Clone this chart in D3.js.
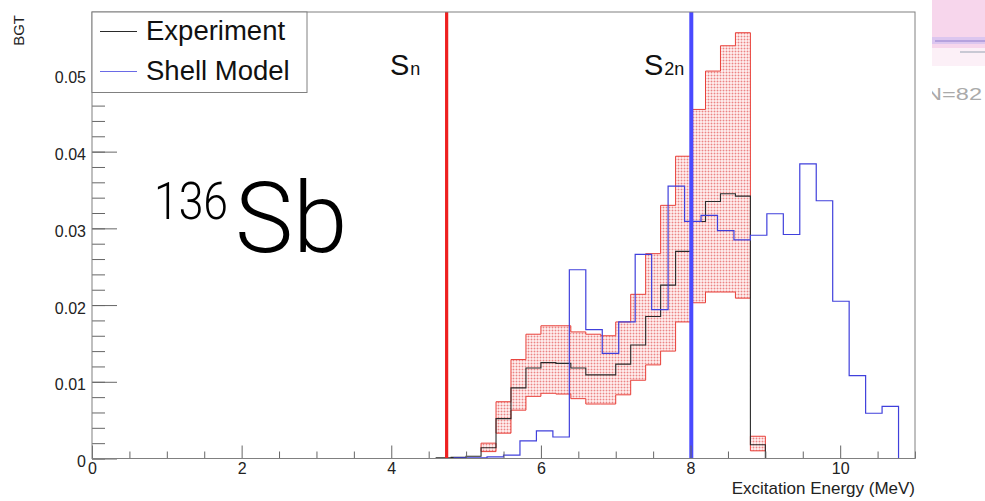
<!DOCTYPE html>
<html>
<head>
<meta charset="utf-8">
<script src="https://cdn.jsdelivr.net/npm/d3@7"></script>
<style>
  html, body { margin: 0; padding: 0; background: #fff; }
  svg { display: block; font-family: "Liberation Sans", Arial, sans-serif; }
</style>
</head>
<body>
<svg id="chart" width="985" height="501"></svg>
<script>
// Measured B(GT) distribution: 0.2 MeV bins starting at 4.6 MeV
const expStart = 4.6;
const expBinWidth = 0.2;
const expValues = [0.0001, 0.00015, 0.0003, 0.0014, 0.0052, 0.0092, 0.0118, 0.0125, 0.0124, 0.0118, 0.0109,
                   0.0109, 0.0123, 0.0148, 0.0185, 0.0226, 0.0270, 0.0309, 0.0335, 0.0345, 0.0342, 0.0018];
// Uncertainty band (lower / upper edge), null where no band is drawn
const expLow  = [null, null, null, 0.0009, 0.0033, 0.0063, 0.0081, 0.0085, 0.0084, 0.0078, 0.0071,
                 0.0071, 0.0083, 0.0102, 0.0122, 0.0140, 0.0178, 0.0203, 0.0217, 0.0217, 0.0209, 0.0010];
const expHigh = [null, null, null, 0.0020, 0.0074, 0.0129, 0.0162, 0.0173, 0.0173, 0.0165, 0.0162,
                 0.0160, 0.0178, 0.0214, 0.0267, 0.0330, 0.0394, 0.0455, 0.0505, 0.0538, 0.0555, 0.0029];

// Shell-model B(GT): 0.22 MeV bins starting at 4.84 MeV
const smStart = 4.84;
const smBinWidth = 0.22;
const smValues = [0.0001, 0.0001, 0.0002, 0.00045, 0.0023, 0.0036, 0.0028, 0.0246, 0.0168, 0.0137, 0.0178,
                  0.0266, 0.0194, 0.0355, 0.0309, 0.0317, 0.0297, 0.0285, 0.0291, 0.0319, 0.0292, 0.0384,
                  0.0336, 0.0205, 0.0108, 0.0059, 0.0068];

// Neutron separation energies (MeV)
const thresholdNames = ["n", "2n"];
const thresholdEnergies = [4.74, 8.01];
const thresholdColors = ["#ee2020", "#4a4aff"];

const xTicks = [0, 2, 4, 6, 8, 10];
const xMinorTicks = d3.range(0, 11.01, 0.5);
const yTicks = [0, 0.01, 0.02, 0.03, 0.04, 0.05];
const yMinorTicks = d3.range(0, 0.0581, 0.002);

const legendLabels = ["Experiment", "Shell Model"];

const svg = d3.select("#chart");
const plotLeft = 92, plotRight = 915, plotTop = 12, plotBottom = 458.5;

const x = d3.scaleLinear().domain([0, 11]).range([plotLeft, plotRight]);
const y = d3.scaleLinear().domain([0, 0.0582]).range([plotBottom, plotTop]);

// dotted pink fill for the uncertainty band
const defs = svg.append("defs");
const pat = defs.append("pattern").attr("id", "band").attr("patternUnits", "userSpaceOnUse")
  .attr("width", 3).attr("height", 3);
pat.append("rect").attr("width", 3).attr("height", 3).attr("fill", "#fdeaea");
pat.append("rect").attr("width", 3).attr("height", 1).attr("fill", "#f8c8c8");
pat.append("rect").attr("width", 1).attr("height", 3).attr("fill", "#f8c8c8");
pat.append("rect").attr("width", 1).attr("height", 1).attr("fill", "#ea8585");

defs.append("clipPath").attr("id", "edgeClip")
  .append("rect").attr("x", 932).attr("y", 0).attr("width", 60).attr("height", 501);

const line = d3.line().x(d => x(d[0])).y(d => y(d[1]));

function stepPoints(start, width, values) {
  const pts = [[start, 0]];
  values.forEach((v, i) => {
    pts.push([start + i * width, v]);
    pts.push([start + (i + 1) * width, v]);
  });
  pts.push([start + values.length * width, 0]);
  return pts;
}

// split the band into runs of overlapping bins and outline each run
const runs = [];
let cur = null;
expLow.forEach((lo, i) => {
  if (lo === null) { cur = null; return; }
  const hi = expHigh[i];
  if (cur && cur.length) {
    const p = cur[cur.length - 1];
    if (lo > p.hi || hi < p.lo) cur = null;
  }
  if (!cur) { cur = []; runs.push(cur); }
  cur.push({ i, lo, hi });
});
runs.forEach(run => {
  const upper = [], lower = [];
  run.forEach(b => {
    const e0 = expStart + b.i * expBinWidth, e1 = e0 + expBinWidth;
    upper.push([e0, b.hi], [e1, b.hi]);
    lower.push([e0, b.lo], [e1, b.lo]);
  });
  const poly = upper.concat(lower.reverse());
  poly.push(poly[0]);
  svg.append("path").attr("d", line(poly))
    .attr("fill", "url(#band)").attr("stroke", "#e8403a").attr("stroke-width", 1);
});

// experiment histogram
svg.append("path").attr("d", line(stepPoints(expStart, expBinWidth, expValues)))
  .attr("fill", "none").attr("stroke", "#2a2a2a").attr("stroke-width", 1.1);

// shell-model histogram
svg.append("path").attr("d", line(stepPoints(smStart, smBinWidth, smValues)))
  .attr("fill", "none").attr("stroke", "#4040dc").attr("stroke-width", 1.2);

// separation energy markers
thresholdEnergies.forEach((e, i) => {
  svg.append("line").attr("x1", x(e)).attr("x2", x(e)).attr("y1", y(0)).attr("y2", plotTop)
    .attr("stroke", thresholdColors[i]).attr("stroke-width", i === 0 ? 3.2 : 4);
});
const labelX = [390, 644];
thresholdNames.forEach((n, i) => {
  const t = svg.append("text").attr("x", labelX[i]).attr("y", 75).attr("fill", "#111");
  t.append("tspan").attr("font-size", 29).text("S");
  t.append("tspan").attr("font-size", 18).attr("dx", 1).text(n);
});

// axes
svg.append("g").attr("transform", `translate(0,${plotBottom})`)
  .call(d3.axisBottom(x).tickValues(xTicks).tickSize(-13).tickSizeOuter(0).tickPadding(4.5).tickFormat(d3.format("d")));
svg.append("g").attr("transform", `translate(0,${plotBottom})`)
  .call(d3.axisBottom(x).tickValues(xMinorTicks.filter(v => v % 2 !== 0)).tickSize(-7).tickSizeOuter(0).tickFormat(""));
const yAxis = svg.append("g").attr("transform", `translate(${plotLeft},0)`)
  .call(d3.axisLeft(y).tickValues(yTicks).tickSize(-25).tickSizeOuter(0).tickPadding(6)
    .tickFormat(d => d === 0 ? "0" : d.toFixed(2)));
svg.append("g").attr("transform", `translate(${plotLeft},0)`)
  .call(d3.axisLeft(y).tickValues(yMinorTicks).tickSize(-13).tickSizeOuter(0).tickFormat(""));

svg.selectAll(".domain").remove();
svg.selectAll(".tick line").attr("stroke", "#666").attr("stroke-width", 1);
svg.selectAll(".tick text").attr("font-size", 16).attr("fill", "#222")
  .attr("font-family", "'Liberation Sans', Arial, sans-serif");
yAxis.selectAll(".tick text").attr("dy", "0.5em");

// frame
svg.append("rect").attr("x", plotLeft).attr("y", plotTop).attr("width", plotRight - plotLeft).attr("height", plotBottom - plotTop)
  .attr("fill", "none").attr("stroke", "#808080").attr("stroke-width", 1);

// axis titles
svg.append("text").attr("transform", "translate(24,15) rotate(-90)").attr("text-anchor", "end")
  .attr("font-size", 15).attr("fill", "#222").text("BGT");
svg.append("text").attr("x", plotRight).attr("y", 493.5).attr("text-anchor", "end")
  .attr("font-size", 17).attr("fill", "#222").text("Excitation Energy (MeV)");

// nucleus label
const nuc = svg.append("text").attr("fill", "#000").attr("font-family", "Roboto, 'Noto Sans', sans-serif")
  .attr("font-weight", 300);
nuc.append("tspan").attr("x", 154).attr("y", 219).attr("font-size", 52)
  .attr("textLength", 74).attr("lengthAdjust", "spacingAndGlyphs").text("136");
nuc.append("tspan").attr("x", 235).attr("y", 252).attr("font-size", 98).text("Sb");

// legend
const lg = svg.append("g");
lg.append("rect").attr("x", 92).attr("y", 12).attr("width", 215).attr("height", 80.5)
  .attr("fill", "#fff").attr("stroke", "#808080").attr("stroke-width", 1);
const legendColors = ["#2a2a2a", "#6a6ae6"];
legendLabels.forEach((l, i) => {
  const cy = 31.5 + i * 40;
  lg.append("line").attr("x1", 100).attr("x2", 137).attr("y1", cy).attr("y2", cy)
    .attr("stroke", legendColors[i]).attr("stroke-width", 1.1);
  lg.append("text").attr("x", 146).attr("y", cy + 8.5).attr("font-size", 27.5).attr("fill", "#111").text(l);
});

// neighbouring panel edge
const edge = svg.append("g").attr("clip-path", "url(#edgeClip)");
edge.append("rect").attr("x", 932).attr("y", 0).attr("width", 60).attr("height", 48).attr("fill", "#f7d6ec");
edge.append("rect").attr("x", 932).attr("y", 48).attr("width", 60).attr("height", 18).attr("fill", "#fcf0f7");
edge.append("rect").attr("x", 932).attr("y", 37).attr("width", 60).attr("height", 7).attr("fill", "#dcc6ef");
edge.append("rect").attr("x", 935).attr("y", 40).attr("width", 60).attr("height", 2).attr("fill", "#b6a2de");
edge.append("rect").attr("x", 960).attr("y", 51).attr("width", 30).attr("height", 2).attr("fill", "#c9c9d4");
edge.append("text").attr("x", 925).attr("y", 100).attr("font-size", 16).attr("fill", "#aaa")
  .attr("textLength", 57).attr("lengthAdjust", "spacingAndGlyphs").text("N=82");
</script>
</body>
</html>
